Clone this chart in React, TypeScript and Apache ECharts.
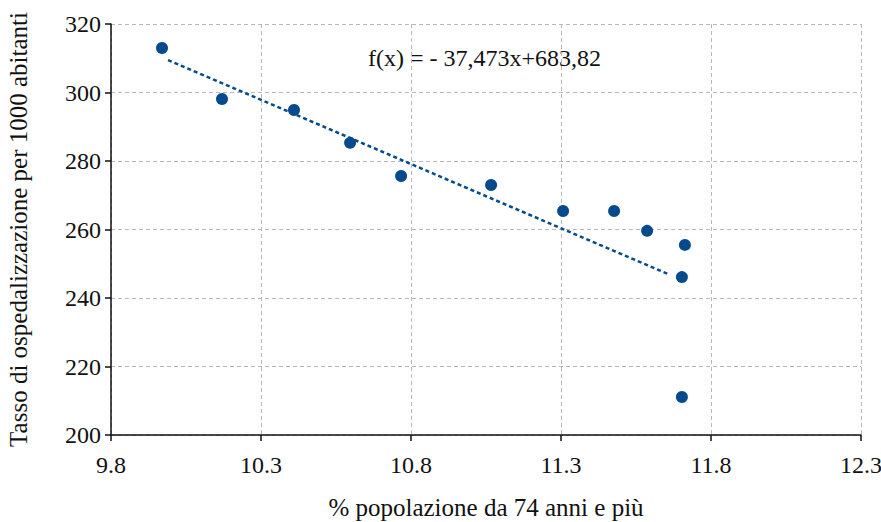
import React, { useEffect, useRef } from "react";
import * as echarts from "echarts";

const xValues = [9.97, 10.17, 10.41, 10.597, 10.767, 11.067, 11.307, 11.477, 11.587, 11.713, 11.703, 11.703];
const yValues = [313.0, 298.1, 294.9, 285.3, 275.6, 273.0, 265.4, 265.4, 259.6, 255.5, 246.1, 211.1];
const trendSlope = -37.473;
const trendIntercept = 683.82;
const trendRange = [9.99, 11.66];
const equationLabel = "f(x) = - 37,473x+683,82";
const xTicks = [9.8, 10.3, 10.8, 11.3, 11.8, 12.3];
const xAxisName = "% popolazione da 74 anni e più";
const yAxisName = "Tasso di ospedalizzazione per 1000 abitanti";

const FONT = "Liberation Serif";
const BLUE = "#054a8c";

export default function App() {
  const ref = useRef<HTMLDivElement>(null);
  useEffect(() => {
    if (!ref.current) return;
    const chart = echarts.init(ref.current, null, { renderer: "svg" });
    const points = xValues.map((x, i) => [x, yValues[i]]);
    const trend = trendRange.map((x) => [x, trendSlope * x + trendIntercept]);
    chart.setOption({
      animation: false,
      backgroundColor: "#ffffff",
      textStyle: { fontFamily: FONT },
      grid: { left: 111, right: 20, top: 24, bottom: 87, containLabel: false, outerBoundsMode: "none" },
      xAxis: {
        type: "value",
        min: xTicks[0],
        max: xTicks[xTicks.length - 1],
        interval: 0.5,
        name: xAxisName,
        nameLocation: "middle",
        nameGap: 60,
        nameTextStyle: { fontFamily: FONT, fontSize: 25, color: "#111" },
        axisLine: { show: true, lineStyle: { color: "#111", width: 1.5 } },
        axisTick: { show: true, length: 6, lineStyle: { color: "#111", width: 1.5 } },
        axisLabel: {
          fontFamily: FONT,
          fontSize: 24,
          color: "#111",
          margin: 18,
          formatter: (v: number) => v.toFixed(1),
        },
        splitLine: { show: true, lineStyle: { color: "#b8b8b8", type: [4, 3], width: 1 } },
      },
      yAxis: {
        type: "value",
        min: 200,
        max: 320,
        interval: 20,
        name: yAxisName,
        nameLocation: "middle",
        nameGap: 80,
        nameTextStyle: { fontFamily: FONT, fontSize: 25, color: "#111" },
        axisLine: { show: true, lineStyle: { color: "#111", width: 1.5 } },
        axisTick: { show: true, length: 6, lineStyle: { color: "#111", width: 1.5 } },
        axisLabel: { fontFamily: FONT, fontSize: 24, color: "#111", margin: 10 },
        splitLine: { show: true, lineStyle: { color: "#b8b8b8", type: [4, 3], width: 1 } },
      },
      graphic: [
        {
          type: "text",
          left: 368,
          top: 46,
          style: { text: equationLabel, fontFamily: FONT, fontSize: 24, fill: "#111" },
        },
      ],
      series: [
        {
          type: "line",
          data: trend,
          symbol: "none",
          lineStyle: { color: BLUE, width: 2.5, type: [4, 3] },
          z: 2,
        },
        {
          type: "scatter",
          data: points,
          symbol: "circle",
          symbolSize: 12,
          itemStyle: { color: BLUE, opacity: 1 },
          z: 3,
        },
      ],
    });
    return () => chart.dispose();
  }, []);
  return (
    <div
      ref={ref}
      style={{ position: "fixed", left: 0, top: 0, width: 881, height: 522 }}
    />
  );
}
